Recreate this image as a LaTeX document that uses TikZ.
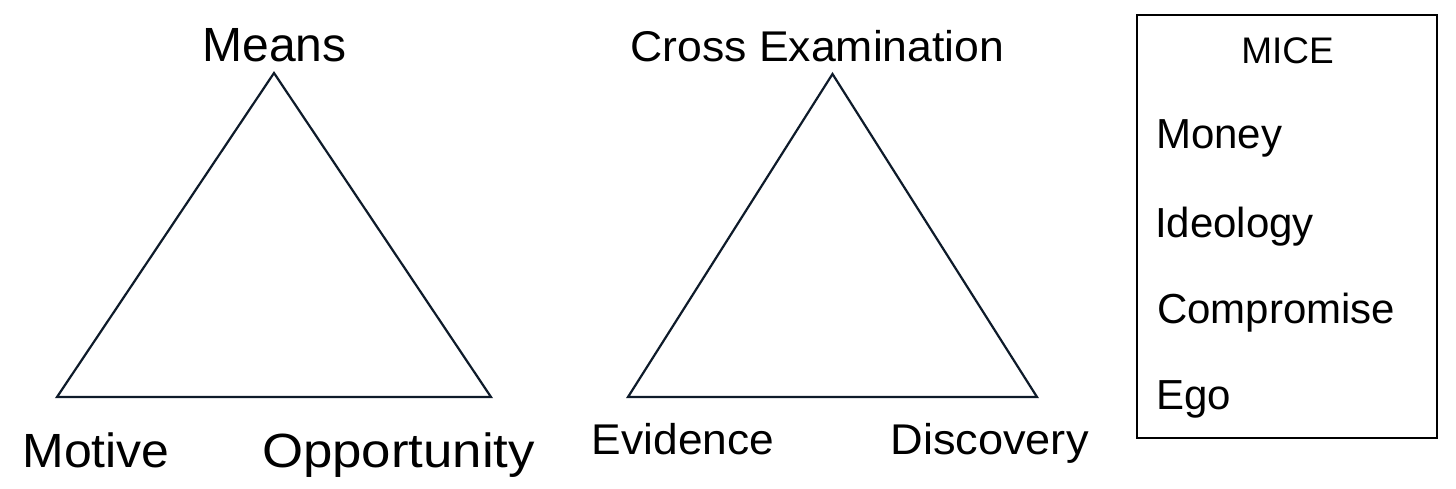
\documentclass[tikz,border=0pt]{standalone}
\usepackage{fontspec}
\setmainfont{Liberation Sans}
\definecolor{navy}{RGB}{14,27,42}
\begin{document}
\begin{tikzpicture}[x=1pt,y=-1pt,
  tri/.style={draw=navy,line width=2.2pt,line join=miter},
  lbl/.style={inner sep=0pt,anchor=base},
  big/.style={lbl,font=\fontsize{48}{50}\selectfont},
  mid/.style={lbl,font=\fontsize{43}{45}\selectfont},
  item/.style={inner sep=0pt,anchor=base west,font=\fontsize{42}{44}\selectfont},
  hdr/.style={lbl,font=\fontsize{37}{39}\selectfont}]
\useasboundingbox (0,0) rectangle (1456,489);
% triangle 1
\coordinate (m1) at (274,73);
\coordinate (m2) at (57,397);
\coordinate (m3) at (491,397);
\draw[tri] (m1) -- (m2) -- (m3) -- cycle;
\node[big] (means) at (274.5,62) {Means};
\node[big] (motive) at (96,467) {\scalebox{1.04}[1]{Motive}};
\node[big] (opp) at (398.5,467) {\scalebox{1.1}[1]{Opportunity}};
% triangle 2
\coordinate (c1) at (832.5,74);
\coordinate (c2) at (628,397);
\coordinate (c3) at (1037,397);
\draw[tri] (c1) -- (c2) -- (c3) -- cycle;
\node[mid] (cross) at (817.5,62) {\scalebox{1.036}[1]{Cross Examination}};
\node[mid] (evid) at (683,454) {\scalebox{1.03}[1]{Evidence}};
\node[mid] (disc) at (989.5,454) {\scalebox{1.05}[1]{Discovery}};
% MICE box
\draw[black,line width=2pt] (1137,15) rectangle (1437,438);
\node[hdr] (mice) at (1287.5,64) {MICE};
\node[item] (money) at (1156,149) {Money};
\node[item] (ideo) at (1155,237) {Ideology};
\node[item] (comp) at (1157,323) {Compromise};
\node[item] (ego) at (1156,409) {Ego};
\end{tikzpicture}
\end{document}
